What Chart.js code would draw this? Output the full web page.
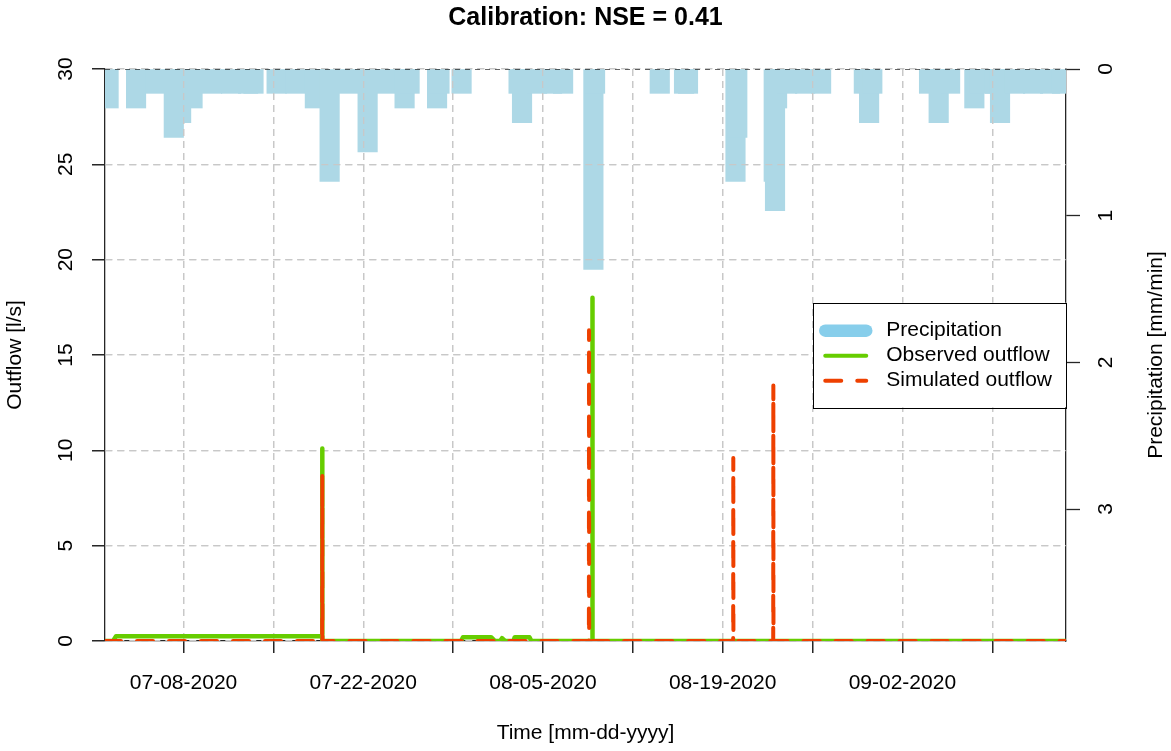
<!DOCTYPE html>
<html>
<head>
<meta charset="utf-8">
<title>Calibration: NSE = 0.41</title>
<script src="https://cdn.jsdelivr.net/npm/chart.js@4.4.1/dist/chart.umd.min.js"></script>
<style>
  html, body { margin: 0; padding: 0; background: #ffffff; }
  canvas { display: block; }
</style>
</head>
<body>
<canvas id="chart" width="1171" height="751"></canvas>
<script>
// Time is given in days since 2020-07-01 00:00 (UTC).
const ORIGIN = Date.UTC(2020, 6, 1);

// Precipitation [mm/min]
const precipDay = [1.16, 3.30, 4.84, 6.24, 6.81, 7.70, 9.22, 10.70, 12.03, 12.45,
                   14.25, 15.71, 17.23, 18.38, 19.82, 21.34, 22.78, 24.22, 24.61, 26.75,
                   26.94, 28.66, 33.10, 33.37, 34.54, 35.71, 36.57, 38.93, 39.06, 44.10,
                   45.99, 46.30, 50.00, 50.14, 52.98, 53.08, 53.24, 54.02, 55.42, 56.67,
                   60.00, 60.41, 60.66, 65.08, 65.83, 66.72, 68.61, 69.05, 70.22, 70.61,
                   71.78, 73.18, 74.51, 75.44];
const precipVal = [0.2, 0.2, 0.1, 0.4, 0.3, 0.2, 0.1, 0.1, 0.1, 0.1,
                   0.1, 0.1, 0.2, 0.7, 0.1, 0.5, 0.1, 0.2, 0.1, 0.2,
                   0.1, 0.1, 0.1, 0.3, 0.1, 0.1, 0.1, 1.3, 0.1, 0.1,
                   0.1, 0.1, 0.7, 0.4, 0.7, 0.9, 0.2, 0.1, 0.1, 0.1,
                   0.1, 0.3, 0.1, 0.1, 0.3, 0.1, 0.2, 0.1, 0.1, 0.3,
                   0.1, 0.1, 0.1, 0.1];

// Observed outflow [l/s]
const obsDay = [0.88, 1.51, 1.74, 17.63, 17.79, 17.80, 17.82, 17.95, 28.62, 28.77,
                30.96, 31.27, 31.66, 31.81, 32.05, 32.70, 32.80, 33.95, 34.10,
                38.83, 38.85, 38.87, 75.75];
const obsVal = [0, 0, 0.25, 0.25, 0.25, 10.1, 0, 0, 0, 0.2,
                0.2, 0, 0, 0.15, 0, 0, 0.2, 0.2, 0,
                0, 18.0, 0, 0];

// Simulated outflow [l/s]
const simDay = [0.88, 17.80, 17.81, 17.82, 38.58, 38.59, 38.60, 49.82, 49.83, 49.84,
                52.94, 52.95, 52.96, 75.75];
const simVal = [0, 0, 8.7, 0, 0, 16.3, 0, 0, 9.6, 0,
                0, 13.4, 0, 0];

// Axes
const X_MIN = 0.88, X_MAX = 75.75;
const xTickDays = [7, 14, 21, 28, 35, 42, 49, 56, 63, 70];
const xLabelDays = [7, 21, 35, 49, 63];
const outflowTicks = [0, 5, 10, 15, 20, 25, 30];
const precipTicks = [0, 1, 2, 3];
const OUTFLOW_MAX = 30;
const PRECIP_MAX = 3.9;

const TITLE = 'Calibration: NSE = 0.41';
const X_TITLE = 'Time [mm-dd-yyyy]';
const Y_TITLE = 'Outflow [l/s]';
const Y2_TITLE = 'Precipitation [mm/min]';

// Styling
const FONT = '"Liberation Sans", Arial, Helvetica, sans-serif';
const FS = 21;
const BAR_PX = 19.5;          // thickness of the precipitation bars
const BAR_CAP = 0.066;        // square line-end overhang of each bar, in mm/min
const GRID = '#c8c8c8';
const AXIS = '#262626';
const C_PRECIP = '#add8e6', C_PRECIP_KEY = '#87ceeb';
const C_OBS = '#66cd00', C_SIM = '#ee4000';

Chart.defaults.font.family = FONT;
Chart.defaults.font.size = FS;
Chart.defaults.color = '#000';

function dayLabel(d) {
  const t = new Date(ORIGIN + Math.round(d * 86400000));
  const mm = String(t.getUTCMonth() + 1).padStart(2, '0');
  const dd = String(t.getUTCDate()).padStart(2, '0');
  return mm + '-' + dd + '-' + t.getUTCFullYear();
}
const toPts = (xs, ys) => xs.map((x, i) => ({ x: x, y: ys[i] }));
const fixTicks = vals => scale => { scale.ticks = vals.map(v => ({ value: v })); };

// Grid lines are repainted above the precipitation bars
const gridOverBars = {
  id: 'gridOverBars',
  afterDatasetDraw(chart, args) {
    if (chart.data.datasets[args.index].id !== 'precip') return;
    chart.scales.x.drawGrid(chart.chartArea);
    chart.scales.y.drawGrid(chart.chartArea);
  }
};

// Right-hand axis title (reads bottom to top) and the boxed key
const annotations = {
  id: 'annotations',
  afterDraw(chart) {
    const ctx = chart.ctx, a = chart.chartArea;
    ctx.save();
    ctx.font = FS + 'px ' + FONT;
    ctx.fillStyle = '#000';
    ctx.textAlign = 'center';
    ctx.textBaseline = 'middle';
    ctx.translate(a.right + 90, (a.top + a.bottom) / 2);
    ctx.rotate(-Math.PI / 2);
    ctx.fillText(Y2_TITLE, 0, 0);
    ctx.restore();

    const items = chart.data.datasets.filter(d => d.key).sort((p, q) => p.key.rank - q.key.rank);
    ctx.save();
    ctx.font = FS + 'px ' + FONT;
    const tw = Math.max(...items.map(d => ctx.measureText(d.label).width));
    const rowH = 25, padL = 12, seg = 41, gap = 20, padR = 14;
    const boxW = padL + seg + gap + tw + padR;
    const boxH = rowH * items.length + 29.6;
    const bx = a.right - boxW, by = (a.top + a.bottom) / 2 - boxH / 2;
    ctx.fillStyle = '#fff';
    ctx.fillRect(bx, by, boxW, boxH);
    ctx.strokeStyle = '#000';
    ctx.lineWidth = 1;
    ctx.strokeRect(Math.round(bx) + 0.5, Math.round(by) + 0.5, Math.round(boxW), Math.round(boxH));
    items.forEach((d, i) => {
      const y = by + 28 + rowH * i;
      ctx.save();
      ctx.beginPath();
      ctx.lineCap = 'round';
      ctx.strokeStyle = d.key.color;
      ctx.lineWidth = d.key.width;
      ctx.setLineDash(d.key.dash || []);
      ctx.moveTo(bx + padL, y);
      ctx.lineTo(bx + padL + seg, y);
      ctx.stroke();
      ctx.restore();
      ctx.fillStyle = '#000';
      ctx.textAlign = 'left';
      ctx.textBaseline = 'middle';
      ctx.fillText(d.label, bx + padL + seg + gap, y);
    });
    ctx.restore();
  }
};

new Chart(document.getElementById('chart'), {
  type: 'line',
  data: {
    datasets: [
      {
        id: 'sim', label: 'Simulated outflow', yAxisID: 'y', order: 0,
        data: toPts(simDay, simVal),
        borderColor: C_SIM, borderWidth: 4, borderDash: [16, 16],
        borderCapStyle: 'round', borderJoinStyle: 'round',
        pointRadius: 0, tension: 0,
        key: { rank: 3, color: C_SIM, width: 4, dash: [16, 16] }
      },
      {
        id: 'obs', label: 'Observed outflow', yAxisID: 'y', order: 1,
        data: toPts(obsDay, obsVal),
        borderColor: C_OBS, borderWidth: 4.5,
        borderCapStyle: 'round', borderJoinStyle: 'round',
        pointRadius: 0, tension: 0,
        key: { rank: 2, color: C_OBS, width: 4 }
      },
      {
        id: 'precipZero', label: 'precipitation zero', yAxisID: 'yP', order: 2,
        data: [{ x: X_MIN, y: 0 }, { x: X_MAX, y: 0 }],
        borderColor: '#000', borderWidth: 1.2, borderDash: [5, 5],
        pointRadius: 0
      },
      {
        id: 'precip', type: 'bar', label: 'Precipitation', yAxisID: 'yP', order: 3,
        data: precipDay.map((d, i) => ({ x: d, y: [0, precipVal[i] + BAR_CAP] })),
        backgroundColor: C_PRECIP, borderWidth: 0,
        barThickness: BAR_PX,
        key: { rank: 1, color: C_PRECIP_KEY, width: 12.5 }
      }
    ]
  },
  options: {
    responsive: false,
    animation: false,
    devicePixelRatio: 1,
    layout: { padding: 0 },
    plugins: {
      legend: { display: false },
      tooltip: { enabled: false },
      title: {
        display: true, text: TITLE, color: '#000',
        font: { size: 25, weight: 'bold', family: FONT, lineHeight: 1.2 },
        padding: { top: 3, bottom: 36 }
      }
    },
    scales: {
      x: {
        type: 'linear', position: 'bottom', min: X_MIN, max: X_MAX, offset: false,
        afterBuildTicks: fixTicks(xTickDays),
        afterFit: s => { s.height = 110; },
        ticks: {
          autoSkip: false, maxRotation: 0, minRotation: 0, padding: 18, color: '#000',
          callback: v => xLabelDays.includes(v) ? dayLabel(v) : ''
        },
        grid: { color: GRID, lineWidth: 1.3, offset: false, tickLength: 12, tickColor: AXIS, tickWidth: 1.3 },
        border: { display: true, color: AXIS, width: 1.3, dash: [7, 5] },
        title: { display: true, text: X_TITLE, color: '#000', font: { size: FS }, padding: { top: 0, bottom: 5 } }
      },
      y: {
        type: 'linear', position: 'left', min: 0, max: OUTFLOW_MAX,
        afterBuildTicks: fixTicks(outflowTicks),
        afterFit: s => { s.width = 105; },
        ticks: { minRotation: 90, maxRotation: 90, crossAlign: 'center', padding: 14, color: '#000' },
        grid: { color: GRID, lineWidth: 1.3, tickLength: 13, tickColor: AXIS, tickWidth: 1.3 },
        border: { display: true, color: AXIS, width: 1.3, dash: [7, 5] },
        title: { display: true, text: Y_TITLE, color: '#000', font: { size: FS }, padding: { top: 3, bottom: 0 } }
      },
      yP: {
        type: 'linear', position: 'right', reverse: true, min: 0, max: PRECIP_MAX,
        afterBuildTicks: fixTicks(precipTicks),
        afterFit: s => { s.width = 105; },
        ticks: { minRotation: 90, maxRotation: 90, crossAlign: 'center', padding: 20, color: '#000' },
        grid: { drawOnChartArea: false, tickLength: 14, tickColor: AXIS, tickWidth: 1.3 },
        border: { display: true, color: AXIS, width: 1.3 }
      }
    }
  },
  plugins: [gridOverBars, annotations]
});
</script>
</body>
</html>
